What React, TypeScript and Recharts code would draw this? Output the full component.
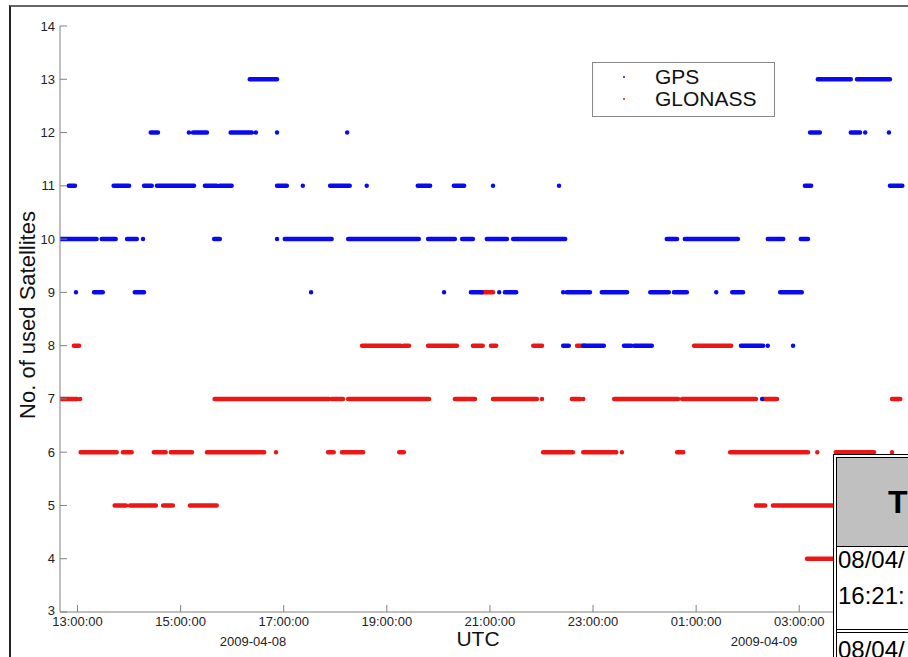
import React from 'react'
import { LineChart, Line, XAxis, YAxis } from 'recharts'

// Runs of constant satellite count as [start, end], in hours after 2009-04-08 00:00 UTC
// (25 = 01:00 on 2009-04-09). A single epoch has start === end.
const GPS_13 = [[16.34, 16.87], [27.36, 28.0], [28.12, 28.76]]
const GPS_12 = [[14.42, 14.56], [15.16, 15.16], [15.24, 15.51], [15.97, 16.38], [16.46, 16.46], [16.87, 16.87], [18.23, 18.23], [27.21, 27.4], [28.0, 28.18], [28.28, 28.28], [28.74, 28.74]]
const GPS_11 = [[12.83, 12.95], [13.7, 14.0], [14.29, 14.44], [14.54, 15.26], [15.47, 15.7], [15.76, 15.99], [16.87, 17.06], [17.37, 17.37], [17.9, 18.28], [18.61, 18.61], [19.6, 19.84], [20.3, 20.5], [21.06, 21.06], [22.34, 22.34], [27.11, 27.23], [28.76, 29.0]]
const GPS_10 = [[12.66, 13.37], [13.47, 13.74], [13.96, 14.15], [14.27, 14.27], [15.65, 15.76], [16.87, 16.87], [17.02, 17.93], [18.25, 19.62], [19.8, 20.32], [20.46, 20.67], [20.94, 21.33], [21.45, 22.46], [24.43, 24.63], [24.78, 25.81], [26.39, 26.69], [27.03, 27.17]]
const GPS_9 = [[12.97, 12.97], [13.32, 13.49], [14.11, 14.29], [17.53, 17.53], [20.11, 20.11], [20.63, 20.84], [21.18, 21.18], [21.29, 21.51], [22.42, 22.42], [22.49, 22.94], [23.17, 23.66], [24.11, 24.47], [24.57, 24.82], [25.39, 25.39], [25.7, 25.91], [26.63, 27.05]]
const GPS_8 = [[22.42, 22.53], [22.81, 23.21], [23.6, 23.74], [23.8, 24.14], [25.87, 26.3], [26.39, 26.39], [26.88, 26.88]]
const GPS_7 = [[26.28, 26.28]]

const GLO_9 = [[20.84, 21.06]]
const GLO_8 = [[12.93, 13.03], [18.52, 19.27], [19.33, 19.43], [19.8, 20.36], [20.67, 20.86], [21.02, 21.12], [21.84, 22.01], [22.69, 22.84], [24.96, 25.68]]
const GLO_7 = [[12.66, 12.99], [13.05, 13.05], [15.66, 17.88], [17.93, 18.15], [18.25, 19.82], [20.32, 20.71], [21.06, 21.91], [22.01, 22.01], [22.59, 22.75], [22.81, 22.81], [23.41, 24.65], [24.73, 26.16], [26.3, 26.57], [28.8, 28.96]]
const GLO_6 = [[13.06, 13.76], [13.88, 14.05], [14.48, 14.71], [14.81, 15.22], [15.51, 16.62], [16.85, 16.85], [17.86, 17.97], [18.13, 18.54], [19.24, 19.33], [22.03, 22.61], [22.81, 23.45], [23.56, 23.56], [24.63, 24.75], [25.66, 27.17], [27.35, 27.35], [27.71, 28.45], [28.8, 28.8]]
const GLO_5 = [[13.72, 13.94], [14.02, 14.52], [14.66, 14.85], [15.18, 15.7], [26.16, 26.34], [26.49, 27.66]]
const GLO_4 = [[27.15, 27.66]]

const GPS_LEVELS: [number, number[][]][] = [[13, GPS_13], [12, GPS_12], [11, GPS_11], [10, GPS_10], [9, GPS_9], [8, GPS_8], [7, GPS_7]]
const GLO_LEVELS: [number, number[][]][] = [[9, GLO_9], [8, GLO_8], [7, GLO_7], [6, GLO_6], [5, GLO_5], [4, GLO_4]]

const TIME_TICKS = [13, 15, 17, 19, 21, 23, 25, 27]
const SAT_TICKS = [3, 4, 5, 6, 7, 8, 9, 10, 11, 12, 13, 14]
const DATE_LABELS = ['2009-04-08', '2009-04-09']

const BLUE = '#0a0aee'
const RED = '#ee1515'
const FONT = '"Liberation Sans", Arial, sans-serif'

// each run becomes two points followed by a gap, so one Line draws them all
function toPoints(levels: [number, number[][]][]) {
  const pts: { t: number; v: number | null }[] = []
  for (const [lvl, runs] of levels) {
    for (const [s, e] of runs) {
      pts.push({ t: s, v: lvl }, { t: e, v: lvl }, { t: e, v: null })
    }
  }
  return pts
}

const gpsData = toPoints(GPS_LEVELS)
const gloData = toPoints(GLO_LEVELS)

const fmtHour = (h: number) => `${String(h % 24).padStart(2, '0')}:00:00`

const TimeTick = ({ x, y, payload }: any) => (
  <g>
    <line x1={x} x2={x} y1={y} y2={y - 7} stroke="#808080" />
    <text x={x} y={y + 14} textAnchor="middle" fontSize={13} fill="#222" fontFamily={FONT}>
      {fmtHour(payload.value)}
    </text>
  </g>
)

const SatTick = ({ x, y, payload }: any) => (
  <g>
    <line x1={x} x2={x + 7} y1={y} y2={y} stroke="#808080" />
    <text x={x - 5} y={y + 4.5 - (payload.value === 3 ? 2 : 0)} textAnchor="end" fontSize={13} fill="#222" fontFamily={FONT}>
      {payload.value}
    </text>
  </g>
)

export default function App() {
  return (
    <div style={{ position: 'absolute', left: 0, top: 0, width: 908, height: 657, overflow: 'hidden', background: '#fff', fontFamily: FONT }}>
      {/* figure frame */}
      <div style={{ position: 'absolute', left: 9, top: 5, width: 920, height: 700, borderTop: '2px solid #666', borderLeft: '2px solid #222' }} />

      <LineChart width={908} height={657} margin={{ top: 26, right: 0, bottom: 0, left: 0 }} style={{ position: 'absolute', left: 0, top: 0 }}>
        <XAxis
          dataKey="t"
          type="number"
          domain={[12.66, 29.11]}
          allowDataOverflow
          ticks={TIME_TICKS}
          interval={0}
          height={45}
          tickSize={0}
          tickMargin={0}
          tickLine={false}
          axisLine={{ stroke: '#808080' }}
          tick={<TimeTick />}
        />
        <YAxis
          type="number"
          domain={[3, 14]}
          ticks={SAT_TICKS}
          interval={0}
          width={60}
          tickSize={0}
          tickMargin={0}
          tickLine={false}
          axisLine={{ stroke: '#808080' }}
          tick={<SatTick />}
        />
        <Line data={gloData} dataKey="v" name="GLONASS" stroke={RED} strokeWidth={4.5} strokeLinecap="round" dot={false} activeDot={false} connectNulls={false} isAnimationActive={false} />
        <Line data={gpsData} dataKey="v" name="GPS" stroke={BLUE} strokeWidth={4.5} strokeLinecap="round" dot={false} activeDot={false} connectNulls={false} isAnimationActive={false} />
      </LineChart>

      {/* axis titles */}
      <div style={{ position: 'absolute', left: 28, top: 315, transform: 'translate(-50%, -50%) rotate(-90deg)', fontSize: 22, whiteSpace: 'nowrap', color: '#111' }}>
        No. of used Satellites
      </div>
      <div style={{ position: 'absolute', left: 478, top: 639, transform: 'translate(-50%, -50%)', fontSize: 21, color: '#111' }}>UTC</div>
      <div style={{ position: 'absolute', left: 253, top: 641, transform: 'translate(-50%, -50%)', fontSize: 13, color: '#222' }}>{DATE_LABELS[0]}</div>
      <div style={{ position: 'absolute', left: 764, top: 641, transform: 'translate(-50%, -50%)', fontSize: 13, color: '#222' }}>{DATE_LABELS[1]}</div>

      {/* legend */}
      <div style={{ position: 'absolute', left: 592, top: 62, width: 181, height: 53, border: '1px solid #888', background: '#fff' }}>
        {[['GPS', BLUE], ['GLONASS', RED]].map(([name, color], i) => (
          <div key={name} style={{ position: 'absolute', left: 0, top: 3 + i * 22, height: 22, width: 181 }}>
            <span style={{ position: 'absolute', left: 30, top: 10, width: 2, height: 2, borderRadius: 1, background: color }} />
            <span style={{ position: 'absolute', left: 62, top: 0, fontSize: 21, lineHeight: '22px', color: '#111' }}>{name}</span>
          </div>
        ))}
      </div>

      {/* table fragment lying over the corner of the figure */}
      <div style={{ position: 'absolute', left: 833, top: 454, width: 100, height: 220, borderTop: '1px solid #000', borderLeft: '1px solid #000', background: '#fff' }}>
        <div style={{ position: 'absolute', left: 2, top: 2, width: 98, height: 220, borderTop: '1px solid #000', borderLeft: '1px solid #000' }}>
          <div style={{ position: 'absolute', left: 0, top: 0, width: 98, height: 88, background: '#c0c0c0', borderBottom: '1px solid #000' }}>
            <span style={{ position: 'absolute', left: 51, top: 28, fontSize: 32, fontWeight: 'bold', lineHeight: '32px', color: '#000' }}>T</span>
          </div>
          <span style={{ position: 'absolute', left: 1, top: 89, fontSize: 24, lineHeight: '26px', color: '#000' }}>08/04/</span>
          <span style={{ position: 'absolute', left: 1, top: 125, fontSize: 24, lineHeight: '26px', color: '#000' }}>16:21:</span>
          <div style={{ position: 'absolute', left: 0, top: 171, width: 98, height: 2, borderTop: '1px solid #000', borderBottom: '1px solid #000' }} />
          <span style={{ position: 'absolute', left: 1, top: 179, fontSize: 24, lineHeight: '26px', color: '#000' }}>08/04/</span>
        </div>
      </div>
    </div>
  )
}
